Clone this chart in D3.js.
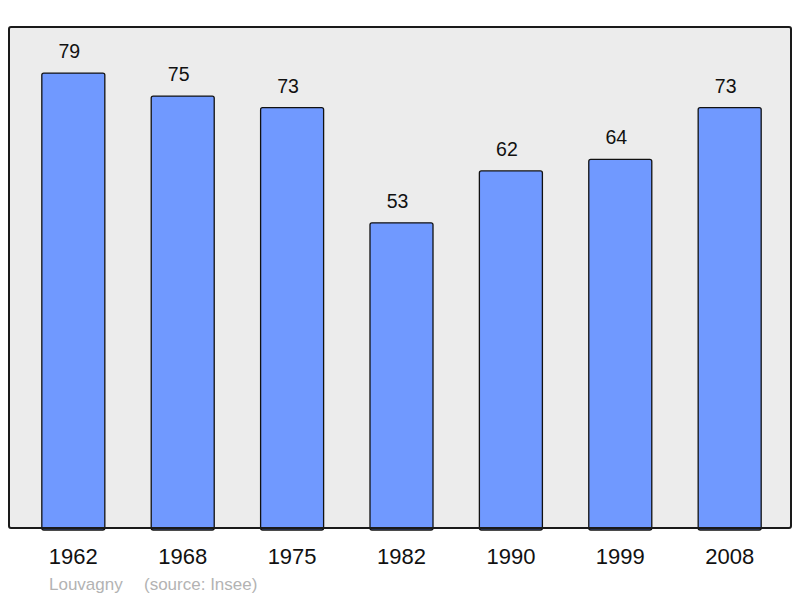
<!DOCTYPE html>
<html lang="fr">
<head>
<meta charset="UTF-8">
<script src="https://cdn.jsdelivr.net/npm/d3@7"></script>
<title>Louvagny</title>
<style>
  body { margin: 0; background: #fff; }
  text { font-family: "Liberation Sans", Arial, sans-serif; }
</style>
</head>
<body>
<div id="chart"></div>
<script>
// population par recensement
var years = ["1962", "1968", "1975", "1982", "1990", "1999", "2008"];
var population = [79, 75, 73, 53, 62, 64, 73];
var commune = "Louvagny";
var source = "(source: Insee)";

var W = 800, H = 598;
var plot = { left: 9, top: 27, right: 791, bottom: 528 };

const svg = d3.select("#chart").append("svg")
    .attr("width", W)
    .attr("height", H);

// fond du graphique
svg.append("rect")
    .attr("x", plot.left)
    .attr("y", plot.top)
    .attr("width", plot.right - plot.left)
    .attr("height", plot.bottom - plot.top)
    .attr("rx", 2)
    .attr("fill", "#ececec")
    .attr("stroke", "none");

var x = d3.scaleBand()
    .domain(years)
    .range([9, 794])
    .paddingInner(0.424)
    .paddingOuter(0.3);

var y = d3.scaleLinear()
    .domain([0, 87])
    .range([plot.bottom, plot.top]);

var data = years.map((yr, i) => ({ year: yr, val: population[i] }));

svg.append("g").selectAll("rect")
    .data(data)
    .enter()
    .append("rect")
    .attr("x", d => x(d.year))
    .attr("y", d => y(d.val))
    .attr("width", x.bandwidth())
    .attr("height", d => y(0) - y(d.val) + 2)
    .attr("rx", 2)
    .attr("fill", "#7099ff")
    .attr("stroke", "#111")
    .attr("stroke-width", 1.3);

// valeurs au-dessus des barres (un peu décalées à gauche)
svg.append("g").selectAll("text")
    .data(data)
    .enter()
    .append("text")
    .text(d => d.val)
    .attr("x", d => x(d.year) + x.bandwidth() / 2 - 4)
    .attr("y", d => y(d.val) - 15)
    .attr("text-anchor", "middle")
    .attr("font-size", 19.5)
    .attr("fill", "#111");

// cadre
svg.append("rect")
    .attr("x", plot.left)
    .attr("y", plot.top)
    .attr("width", plot.right - plot.left)
    .attr("height", plot.bottom - plot.top)
    .attr("rx", 2)
    .attr("fill", "none")
    .attr("stroke", "#1a1a1a")
    .attr("stroke-width", 2);

// années
const xAxis = svg.append("g")
    .attr("transform", "translate(0," + plot.bottom + ")")
    .call(d3.axisBottom(x).tickSize(0).tickPadding(20));
xAxis.select(".domain").remove();
xAxis.selectAll("text")
    .attr("font-size", 22)
    .attr("font-family", "Liberation Sans, Arial, sans-serif")
    .attr("fill", "#111");

svg.append("text")
    .attr("x", 49)
    .attr("y", 590)
    .attr("font-size", 17)
    .attr("fill", "#b3b3b3")
    .text(commune);

svg.append("text")
    .attr("x", 144)
    .attr("y", 590)
    .attr("font-size", 17)
    .attr("fill", "#b3b3b3")
    .text(source);
</script>
</body>
</html>
